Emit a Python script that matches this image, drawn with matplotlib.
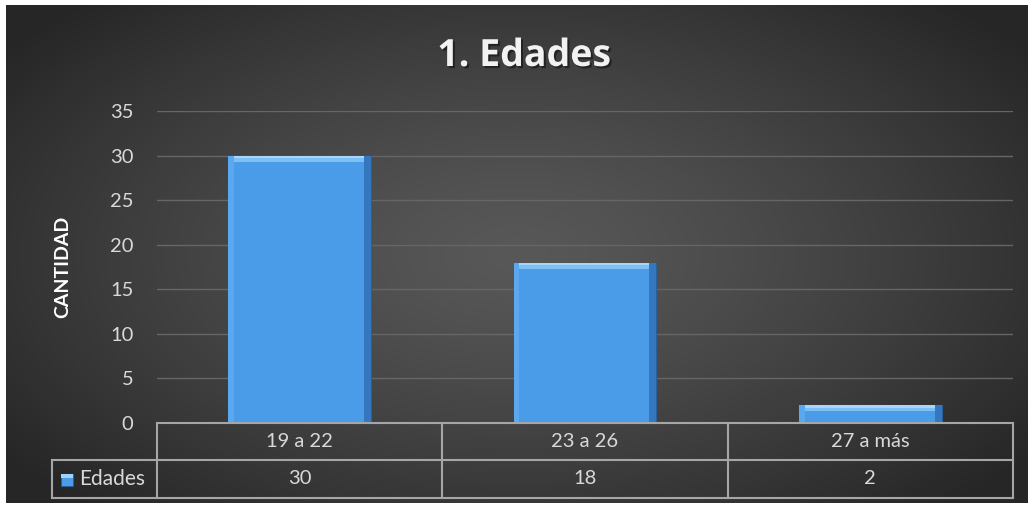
import numpy as np
import matplotlib
matplotlib.use('Agg')
import matplotlib.pyplot as plt
import matplotlib.patheffects as pe
from matplotlib.patches import Rectangle
from matplotlib.lines import Line2D

plt.rcParams['font.family'] = ['Lato', 'DejaVu Sans']

# ==================== datos ====================
categorias = ['19 a 22', '23 a 26', '27 a más']
valores = [30, 18, 2]
serie = 'Edades'
titulo = '1. Edades'
eje_y = 'CANTIDAD'
ticks_y = [0, 5, 10, 15, 20, 25, 30, 35]

W, H = 1032, 507
fig = plt.figure(figsize=(W / 100, H / 100), dpi=100, facecolor='white')

def fx(px):
    return px / W

def fy(py):
    return 1 - py / H

# fondo con degradado radial
bg = fig.add_axes([fx(6), fy(503), fx(1028) - fx(6), fy(5) - fy(503)])
yy, xx = np.mgrid[-1:1:300j, -1:1:600j]
r = np.sqrt((xx / 1.0) ** 2 + (yy / 1.1) ** 2)
r = np.clip(r / 1.25, 0, 1)
grad = 0.345 - (0.345 - 0.15) * r ** 1.3
bg.imshow(np.dstack([grad, grad, grad]), aspect='auto', extent=[0, 1, 0, 1],
          interpolation='bilinear')
bg.axis('off')

# ==================== gráfico ====================
L, R, T, B = 157, 1013, 111, 423
ax = fig.add_axes([fx(L), fy(B), fx(R) - fx(L), fy(T) - fy(B)])
ax.set_facecolor('none')
x = np.arange(len(categorias))
ax.set_xlim(-0.5, len(categorias) - 0.5)
ax.set_ylim(0, 35)
ax.set_yticks(ticks_y)
ax.set_xticks([])
for s in ax.spines.values():
    s.set_visible(False)
ax.tick_params(axis='y', length=0, colors='#d9d9d9', labelsize=14.5, pad=17)
ax.grid(axis='y', color='#666666', linewidth=1)
ax.set_axisbelow(True)

ancho = 0.5
v = np.array(valores, dtype=float)
ax.bar(x, v, width=ancho, color='#4a9be8', edgecolor='#2a5f99', linewidth=0.8, zorder=3)
# bisel: franja clara arriba, oscura a la derecha
ax.bar(x, np.minimum(v, 0.7), bottom=v - np.minimum(v, 0.7), width=ancho,
       color='#7fbff4', linewidth=0, zorder=4)
ax.bar(x, np.minimum(v, 0.3), bottom=v - np.minimum(v, 0.3), width=ancho,
       color='#a6d6fb', linewidth=0, zorder=4)
ax.bar(x + ancho / 2 - 0.012, v, width=0.024, color='#3577bf', linewidth=0, zorder=4)
ax.bar(x - ancho / 2 + 0.01, v, width=0.02, color='#5aa8ee', linewidth=0, zorder=4)

ax.set_ylabel(eje_y, fontsize=14, fontweight='bold', color='white', labelpad=28)

# título
fig.text(fx(524), fy(56), titulo, fontsize=27, fontweight='bold', color='#f2f2f2',
         ha='center', va='center', family=['Open Sans', 'DejaVu Sans'],
         path_effects=[pe.SimplePatchShadow(offset=(1.5, -1.5), shadow_rgbFace='#111111', alpha=0.6),
                       pe.Normal()])

# ==================== tabla de datos ====================
lc = '#a6a6a6'
r0, r1, r2 = 423, 460, 498
cols = [L + (R - L) * i / len(categorias) for i in range(len(categorias) + 1)]
def linea(xs, ys):
    fig.add_artist(Line2D([fx(a) for a in xs], [fy(b) for b in ys], color=lc, linewidth=1.5))

linea([L, R], [r0, r0])
linea([52, R], [r1, r1])
linea([52, R], [r2, r2])
for c in cols:
    linea([c, c], [r0, r2])
linea([52, 52], [r1, r2])

for i, cat in enumerate(categorias):
    cx = (cols[i] + cols[i + 1]) / 2
    fig.text(fx(cx), fy((r0 + r1) / 2), cat, fontsize=14.5, color='#d9d9d9',
             ha='center', va='center')
    fig.text(fx(cx), fy((r1 + r2) / 2), f'{valores[i]}', fontsize=14.5, color='#d9d9d9',
             ha='center', va='center')

# clave de leyenda
fig.add_artist(Rectangle((fx(61), fy(486)), fx(12), fy(474) - fy(486),
                         facecolor='#4a9be8', edgecolor='#2a5f99', linewidth=0.6))
fig.add_artist(Rectangle((fx(61), fy(478)), fx(12), fy(474) - fy(478),
                         facecolor='#9fd3fb', linewidth=0))
fig.text(fx(79), fy((r1 + r2) / 2), serie, fontsize=15, color='#d9d9d9',
         ha='left', va='center')

plt.savefig('out.png', dpi=100)
